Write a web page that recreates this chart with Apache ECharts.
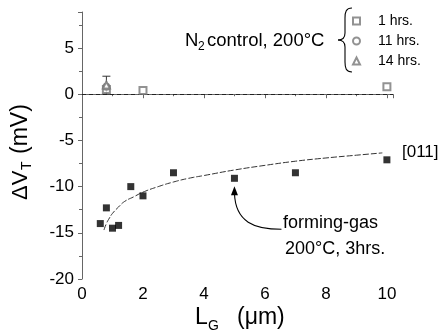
<!DOCTYPE html>
<html><head><meta charset="utf-8">
<script src="https://cdn.jsdelivr.net/npm/echarts@6/dist/echarts.min.js"></script>
<style>html,body{margin:0;padding:0;background:#fff}#c{width:443px;height:335px}</style>
</head><body><div id="c"></div>
<script>
// ---- data ----
var formingGasX = [0.6, 0.8, 1.0, 1.2, 1.6, 2.0, 3.0, 5.0, 7.0, 10.0];
var formingGasY = [-14.0, -12.3, -14.5, -14.2, -10.0, -11.0, -8.5, -9.1, -8.5, -7.1];
var fitX = [0.72, 0.8, 0.9, 1.0, 1.2, 1.4, 1.7, 2.0, 2.5, 3.0, 3.5, 4.0, 5.0, 6.0, 7.0, 8.0, 9.0, 9.85];
var fitY = [-14.7, -14.0, -13.4, -12.9, -12.2, -11.6, -11.1, -10.6, -10.0, -9.5, -9.1, -8.8, -8.2, -7.7, -7.25, -6.9, -6.6, -6.35];
var n2OneX = [0.8, 2.0, 10.0];
var n2OneY = [0.5, 0.4, 0.8];
var n2ElevenX = [0.8];
var n2ElevenY = [0.8];
var n2FourteenX = [0.8];
var n2FourteenY = [1.0];
var n2FourteenErrLow = [0.0];
var n2FourteenErrHigh = [1.95];
var xTicks = [0, 2, 4, 6, 8, 10];
var yTicks = [-20, -15, -10, -5, 0, 5];
var legendNames = ['1 hrs.', '11 hrs.', '14 hrs.'];

function zip(a, b) { return a.map(function (v, i) { return [v, b[i]]; }); }

var FONT = '"Liberation Sans", Arial, Helvetica, sans-serif';
var chart = echarts.init(document.getElementById('c'), null, { renderer: 'canvas' });

var option = {
  animation: false,
  backgroundColor: '#fff',
  textStyle: { fontFamily: FONT },
  grid: { left: 82, top: 12, width: 311, height: 267, containLabel: false },
  legend: {
    orient: 'vertical', left: 347, top: 9, itemWidth: 7, itemHeight: 7, itemGap: 6,
    data: legendNames,
    textStyle: { fontFamily: FONT, fontSize: 14, color: '#000', padding: [0, 0, 0, 13] },
    selectedMode: false
  },
  xAxis: {
    type: 'value', min: 0, max: 10.2, interval: 2,
    axisLine: { show: true, lineStyle: { color: '#666', width: 1 } },
    axisTick: { show: true, inside: false, length: 4, lineStyle: { color: '#666' } },
    minorTick: { show: true, splitNumber: 2, length: 2, lineStyle: { color: '#666' } },
    splitLine: { show: false },
    axisLabel: {
      fontFamily: FONT, fontSize: 17, color: '#000', margin: 7,
      formatter: function (v) { return xTicks.indexOf(v) >= 0 ? String(v) : ''; }
    }
  },
  yAxis: {
    type: 'value', min: -20, max: 8.9, interval: 5,
    axisLine: { show: true, onZero: false, lineStyle: { color: '#666', width: 1 } },
    axisTick: { show: true, inside: false, length: 4, lineStyle: { color: '#666' } },
    minorTick: { show: true, splitNumber: 2, length: 3, lineStyle: { color: '#666' } },
    splitLine: { show: false },
    axisLabel: {
      fontFamily: FONT, fontSize: 17, color: '#000', margin: 8,
      formatter: function (v) { return yTicks.indexOf(v) >= 0 ? String(v) : ''; }
    }
  },
  series: [
    {
      name: 'fit', type: 'line', data: zip(fitX, fitY), showSymbol: false, smooth: true,
      lineStyle: { color: '#333', width: 1, type: [6, 2] }, z: 2,
      markLine: {
        silent: true, symbol: 'none', label: { show: false },
        lineStyle: { color: '#222', width: 1, type: [4, 3] },
        data: [{ yAxis: 0 }]
      }
    },
    {
      name: 'forming-gas', type: 'scatter', data: zip(formingGasX, formingGasY),
      symbol: 'rect', symbolSize: 7, itemStyle: { color: '#000' }, z: 3
    },
    {
      name: 'err14', type: 'custom', z: 4,
      data: n2FourteenX.map(function (x, i) { return [x, n2FourteenErrLow[i], n2FourteenErrHigh[i]]; }),
      renderItem: function (params, api) {
        var lo = api.coord([api.value(0), api.value(1)]);
        var hi = api.coord([api.value(0), api.value(2)]);
        var w = 4;
        return {
          type: 'group', children: [
            { type: 'line', shape: { x1: lo[0], y1: lo[1], x2: hi[0], y2: hi[1] }, style: { stroke: '#333', lineWidth: 1 } },
            { type: 'line', shape: { x1: hi[0] - w, y1: hi[1], x2: hi[0] + w, y2: hi[1] }, style: { stroke: '#333', lineWidth: 1 } },
            { type: 'line', shape: { x1: lo[0] - w, y1: lo[1], x2: lo[0] + w, y2: lo[1] }, style: { stroke: '#333', lineWidth: 1 } }
          ]
        };
      }
    },
    {
      name: '1 hrs.', type: 'scatter', data: zip(n2OneX, n2OneY),
      symbol: 'emptyRect', symbolSize: 7, itemStyle: { color: '#777', borderColor: '#777', borderWidth: 1 }, z: 5
    },
    {
      name: '11 hrs.', type: 'scatter', data: zip(n2ElevenX, n2ElevenY),
      symbol: 'emptyCircle', symbolSize: 6, itemStyle: { color: '#777', borderColor: '#777', borderWidth: 1 }, z: 5
    },
    {
      name: '14 hrs.', type: 'scatter', data: zip(n2FourteenX, n2FourteenY),
      symbol: 'emptyTriangle', symbolSize: 7, itemStyle: { color: '#777', borderColor: '#777', borderWidth: 1 }, z: 5
    }
  ]
};
chart.setOption(option);

// annotations
var tip = chart.convertToPixel({ xAxisIndex: 0, yAxisIndex: 0 }, [formingGasX[7], formingGasY[7]]);
var tx = tip[0], ty = tip[1];
var T = function (txt, x, y, size) {
  return { type: 'text', silent: true,
    style: { text: txt, x: x, y: y, font: size + 'px ' + FONT, fill: '#000', textAlign: 'left', textVerticalAlign: 'middle' } };
};
var BZ = function (x1, y1, c1x, c1y, c2x, c2y, x2, y2) {
  return { type: 'bezierCurve', silent: true,
    shape: { x1: x1, y1: y1, cpx1: c1x, cpy1: c1y, cpx2: c2x, cpy2: c2y, x2: x2, y2: y2 },
    style: { stroke: '#000', lineWidth: 1.1, fill: null } };
};
var LN = function (x1, y1, x2, y2) {
  return { type: 'line', silent: true, shape: { x1: x1, y1: y1, x2: x2, y2: y2 }, style: { stroke: '#000', lineWidth: 1.1 } };
};
chart.setOption({
  graphic: [
    // N2 control label
    T('N', 185, 41, 18.5),
    T('2', 198, 47, 12),
    T('control, 200°C', 207, 41, 18.5),
    // brace
    BZ(352, 8, 346, 8, 345, 12, 345, 18),
    LN(345, 18, 345, 33),
    BZ(345, 33, 345, 38, 342, 40, 338, 40),
    BZ(338, 40, 342, 40, 345, 42, 345, 47),
    LN(345, 47, 345, 62),
    BZ(345, 62, 345, 68, 346, 72, 352, 72),
    // [011]
    T('[011]', 402, 152, 17),
    // forming-gas annotation
    T('forming-gas', 283, 223, 18),
    T('200°C, 3hrs.', 285, 249, 18),
    BZ(tx, ty + 15, tx + 1, ty + 44, tx + 20, ty + 51, tx + 47, ty + 51),
    { type: 'polygon', silent: true,
      shape: { points: [[tx, ty + 8], [tx - 3.5, ty + 17], [tx + 3.5, ty + 17]] },
      style: { fill: '#000' } },
    // x axis title
    T('L', 195, 318, 23),
    T('G', 208, 326, 14),
    T('(μm)', 237, 318, 23),
    // y axis title (rotated)
    { type: 'group', x: 21, y: 200, rotation: Math.PI / 2, silent: true,
      children: [
        T('ΔV', 0, 0, 22),
        T('T', 30, 6, 14),
        T('(mV)', 46, 0, 23)
      ] }
  ]
});
</script></body></html>
